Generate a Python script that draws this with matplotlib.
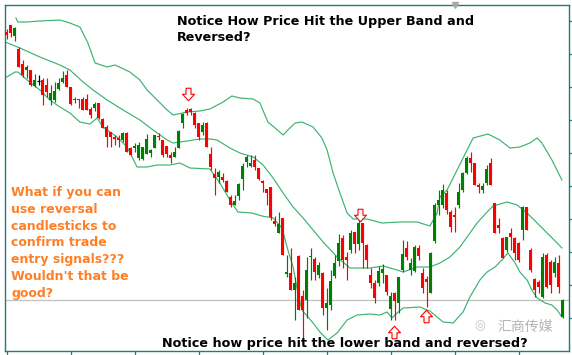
import numpy as np
import matplotlib
matplotlib.use("Agg")
import matplotlib.pyplot as plt
from matplotlib.path import Path

### Data (price units)

opens = [319, 326, 315, 302, 287, 281, 281, 265, 270, 271, 266, 251, 251, 262, 269, 276, 264, 251, 252, 252,
         252, 242, 243, 248, 232, 224, 219, 214, 213, 211, 218, 203, 203, 193, 192, 197, 198, 203, 215, 211,
         205, 196, 194, 203, 228, 241, 242, 238, 228, 219, 228, 197, 177, 174, 174, 170, 154, 146, 155, 172,
         189, 185, 191, 183, 170, 162, 164, 130, 118, 133, 77, 78, 61, 95, 55, 51, 94, 92, 76, 78,
         43, 46, 75, 90, 113, 94, 101, 119, 107, 128, 106, 76, 68, 68, 78, 76, 42, 58, 48, 81,
         103, 81, 80, 103, 78, 72, 58, 110, 146, 146, 158, 139, 136, 146, 161, 178, 193, 188, 166, 161,
         168, 188, 148, 126, 113, 101, 118, 113, 108, 121, 144, 101, 72, 69, 54, 96, 89, 78, 88, 34]
highs = [322, 326, 324, 304, 291, 286, 281, 277, 276, 273, 273, 266, 269, 273, 280, 281, 264, 254, 252, 254,
         257, 244, 249, 248, 233, 226, 219, 216, 216, 219, 219, 204, 208, 209, 204, 217, 202, 216, 218, 211,
         205, 199, 204, 221, 238, 243, 243, 239, 228, 229, 229, 204, 183, 181, 178, 171, 156, 156, 168, 188,
         196, 196, 196, 183, 171, 162, 164, 135, 139, 133, 96, 103, 74, 96, 61, 94, 103, 94, 89, 79,
         63, 81, 96, 117, 116, 99, 121, 119, 135, 128, 107, 83, 71, 85, 87, 76, 59, 59, 74, 111,
         110, 93, 106, 106, 83, 75, 99, 148, 161, 167, 161, 141, 144, 168, 179, 195, 199, 188, 168, 168,
         186, 193, 148, 133, 114, 114, 123, 114, 109, 145, 144, 103, 73, 71, 98, 98, 91, 94, 96, 52]
lows = [312, 314, 310, 284, 274, 273, 265, 264, 266, 246, 254, 246, 249, 261, 268, 264, 246, 248, 243, 241,
        241, 233, 240, 232, 223, 204, 204, 206, 204, 209, 199, 196, 199, 191, 191, 197, 194, 203, 211, 194,
        194, 188, 194, 203, 223, 236, 236, 223, 211, 216, 204, 181, 156, 168, 169, 159, 144, 146, 151, 161,
        184, 184, 181, 171, 159, 146, 131, 125, 118, 96, 74, 61, 31, 41, 11, 33, 71, 71, 73, 36,
        21, 41, 73, 85, 83, 71, 98, 98, 101, 83, 83, 63, 48, 65, 68, 56, 31, 31, 38, 79,
        91, 76, 79, 91, 58, 44, 58, 108, 136, 143, 137, 119, 119, 143, 159, 177, 179, 166, 158, 158,
        166, 166, 118, 118, 93, 99, 101, 91, 89, 111, 121, 79, 54, 58, 53, 63, 58, 74, 58, 33]
closes = [316, 318, 323, 284, 276, 284, 266, 271, 270, 256, 259, 258, 260, 268, 273, 264, 247, 252, 251, 241,
          241, 236, 247, 233, 223, 214, 214, 212, 211, 218, 199, 196, 205, 206, 204, 212, 201, 216, 214, 196,
          197, 193, 199, 220, 237, 238, 239, 226, 214, 226, 204, 184, 173, 179, 171, 159, 146, 150, 167, 185,
          194, 188, 184, 172, 168, 158, 134, 127, 127, 96, 79, 61, 68, 41, 41, 81, 95, 79, 86, 43,
          48, 70, 88, 108, 91, 91, 118, 107, 128, 108, 91, 68, 53, 80, 82, 59, 55, 50, 74, 97,
          94, 88, 104, 95, 63, 69, 98, 146, 151, 161, 141, 124, 134, 159, 178, 193, 188, 166, 164, 165,
          182, 166, 118, 123, 93, 114, 114, 98, 91, 144, 121, 81, 61, 64, 94, 64, 66, 89, 64, 51]

# Bollinger bands: (bar index, price)
upper_x = [2.3, 2.8, 5.1, 8.3, 13.3, 15.8, 18.3, 20.3, 22.1, 25.1, 27.1, 30.8, 33.3, 35.1, 37.6, 40.1, 41.6,
           45.1, 48.3, 50.8, 54.1, 56.3, 58.3, 61.6, 63.3, 65.3, 67.1, 69.1, 70.3, 72.1, 73.8, 76.6, 78.8,
           80.1, 81.6, 83.3, 85.1, 86.6, 90.1, 93.8, 98.3, 102.6, 105.8, 107.6, 108.3, 110.1, 112.6, 115.1,
           116.6, 120.3, 123.3, 125.8, 128.3, 130.8, 132.6, 133.8, 136.3, 138.8]
upper_y = [333, 329, 329, 330, 331, 328, 324, 308, 288, 284, 286, 279, 271, 261, 251, 241, 236,
           239, 240, 242, 249, 255, 253, 252, 248, 229, 223, 216, 221, 228, 229, 224, 213,
           201, 178, 158, 138, 132, 132, 128, 129, 129, 125, 138, 154, 161, 181, 201,
           213, 217, 211, 203, 204, 208, 213, 208, 191, 171]
mid_x = [-0.4, 3.3, 8.3, 13.3, 15.8, 19.1, 21.6, 25.1, 29.1, 33.3, 36.6, 40.1, 41.6, 45.1, 48.3, 50.8, 52.6,
         55.8, 58.3, 61.6, 64.1, 66.6, 69.1, 71.6, 74.1, 76.6, 79.1, 82.6, 85.8, 90.8, 94.1, 97.6, 99.1,
         102.6, 105.8, 108.3, 110.8, 113.3, 115.1, 117.6, 120.1, 121.6, 125.1, 127.6, 130.1, 132.6, 135.1,
         137.6, 138.8]
mid_y = [309, 303, 294, 286, 281, 269, 261, 251, 241, 231, 221, 211, 208, 210, 212, 212, 211,
         203, 198, 194, 186, 173, 158, 144, 133, 121, 109, 94, 83, 83, 85, 81, 79,
         84, 84, 88, 94, 104, 114, 128, 139, 145, 149, 146, 138, 128, 118,
         108, 103]
lower_x = [-0.4, 2.1, 2.8, 5.1, 8.3, 10.8, 13.3, 15.8, 18.3, 20.8, 22.6, 24.1, 27.6, 30.1, 32.6, 35.1, 37.6,
           40.8, 43.3, 45.8, 50.8, 53.3, 55.8, 57.8, 61.3, 63.8, 66.6, 68.8, 70.3, 71.6, 72.8, 73.8, 76.6,
           78.3, 80.3, 82.6, 85.1, 87.6, 90.8, 93.3, 95.1, 96.3, 97.6, 99.1, 103.3, 105.8, 109.1, 111.6,
           114.1, 115.8, 118.3, 120.1, 122.1, 123.8, 125.3, 127.1, 128.3, 130.1, 131.3, 132.6, 134.6, 136.3,
           137.6, 138.8]
lower_y = [273, 279, 279, 271, 261, 251, 244, 238, 229, 227, 233, 224, 214, 204, 184, 184, 186,
           186, 188, 183, 182, 168, 151, 139, 138, 135, 133, 123, 101, 84, 58, 41, 28,
           19, 11, 18, 31, 36, 37, 36, 39, 33, 38, 43, 44, 40, 29, 28,
           39, 54, 71, 79, 84, 91, 98, 88, 79, 71, 61, 53, 48, 46,
           41, 34]

# signal arrows: (bar index, price)
down_x = [45.3, 88.3]
down_y = [257.5, 136.5]
up_x = [96.8, 104.8]
up_y = [19, 35]

last_price = 51
doji_color_idx = [8]

top_title = "Notice How Price Hit the Upper Band and\nReversed?"
bottom_title = "Notice how price hit the lower band and reversed?"
side_note = ("What if you can\nuse reversal\ncandlesticks to\nconfirm trade\n"
             "entry signals???\nWouldn't that be\ngood?")
watermark = "汇商传媒"

### Plot

W, H = 572, 355
fig = plt.figure(figsize=(W / 100, H / 100), dpi=100)
fig.patch.set_facecolor("white")
ax = fig.add_axes([5 / W, 4 / H, 564 / W, 346 / H])
frame = "#1b7f79"

n = len(opens)
x = np.arange(n)
o = np.array(opens, float)
c = np.array(closes, float)
hi = np.array(highs, float)
lo = np.array(lows, float)

ax.axhline(last_price, color="#c0c0c0", lw=0.9, zorder=1)

ax.plot(upper_x, upper_y, color="#3cb371", lw=0.85, zorder=2)
ax.plot(mid_x, mid_y, color="#3cb371", lw=0.85, zorder=2)
ax.plot(lower_x, lower_y, color="#3cb371", lw=0.85, zorder=2)

cols = np.where(c >= o, "#008000", "#ff0000").astype(object)
for k in doji_color_idx:
    cols[k] = "#000000"
ax.vlines(x, lo, hi, colors=list(cols), lw=0.85, zorder=3)
body = np.abs(c - o)
flat = body < 0.5
ax.bar(x[~flat], body[~flat], bottom=np.minimum(o, c)[~flat], width=0.8,
       color=list(cols[~flat]), linewidth=0, zorder=4)
ax.hlines(o[flat], x[flat] - 0.4, x[flat] + 0.4, colors=list(cols[flat]), lw=0.85, zorder=4)

down = Path([(-0.2, 0.5), (0.2, 0.5), (0.2, 0.02), (0.48, 0.02), (0, -0.5),
             (-0.48, 0.02), (-0.2, 0.02), (-0.2, 0.5)])
up = Path([(px, -py) for px, py in down.vertices])
ax.plot(down_x, down_y, ls="none", marker=down, ms=9, mfc="white", mec="red", mew=0.8, zorder=5)
ax.plot(up_x, up_y, ls="none", marker=up, ms=9, mfc="white", mec="red", mew=0.8, zorder=5)

ax.set_xlim(-0.425, 140.575)
ax.set_ylim(0, 346)
for s in ax.spines.values():
    s.set_color(frame)
    s.set_linewidth(1.0)
ax.yaxis.tick_right()
ax.set_yticks(np.arange(33, 346, 33))
ax.set_xticks(np.arange(0, n, 16))
ax.tick_params(colors=frame, length=3, width=0.9, labelleft=False, labelright=False, labelbottom=False)

# chart shift marker
ax.plot([112], [346], marker="v", ms=5, color="#a8a8a8", clip_on=False, zorder=6)

def fx(px):
    return px / W

def fy(py):
    return 1 - py / H

fig.text(fx(177), fy(15), top_title, fontsize=9.15, fontweight="bold", family="DejaVu Sans",
         color="black", va="top", ha="left", linespacing=1.3)
fig.text(fx(162), fy(347), bottom_title, fontsize=9.15, fontweight="bold", family="DejaVu Sans",
         color="black", va="baseline", ha="left")
fig.text(fx(11), fy(186), side_note, fontsize=9.0, fontweight="bold", family="DejaVu Sans",
         color="#ff7f27", va="top", ha="left", linespacing=1.38)
fig.text(fx(497), fy(327), watermark, fontsize=10, family=["Noto Sans CJK SC", "DejaVu Sans"],
         color="#b4b4b4", va="center", ha="left")
fig.text(fx(480), fy(326), "\u25ce", fontsize=9, family="DejaVu Sans", color="#c4c4c4",
         va="center", ha="center")

fig.savefig("out.png", dpi=100)
